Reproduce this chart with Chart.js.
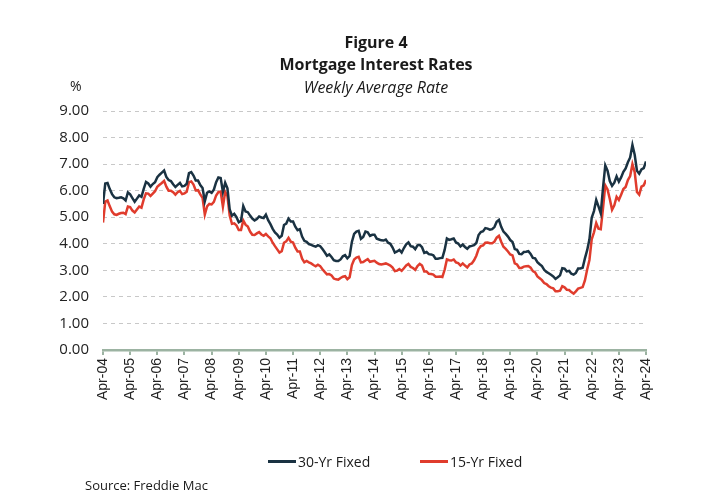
<!DOCTYPE html>
<html>
<head>
<meta charset="utf-8">
<script src="https://cdn.jsdelivr.net/npm/chart.js@4.4.1/dist/chart.umd.min.js"></script>
<style>
  body { margin:0; background:#fff; font-family:"Open Sans", sans-serif; color:#1a1a1a; }
  #wrap { position:relative; width:721px; height:500px; }
  #chart { position:absolute; left:0; top:0; }
  .txt { position:absolute; white-space:nowrap; }
  .title { left:376px; transform:translateX(-50%); font-weight:700; font-size:16px; }
  .lg { position:absolute; top:452px; font-size:14px; display:flex; align-items:center; }
  .lg i { display:inline-block; width:28px; height:2.5px; margin-right:2px; }
</style>
</head>
<body>
<div id="wrap">
  <canvas id="chart" width="721" height="500"></canvas>
  <div class="txt title" style="top:31px">Figure 4</div>
  <div class="txt title" style="top:53px">Mortgage Interest Rates</div>
  <div class="txt title" style="top:76px;font-weight:400;font-style:italic">Weekly Average Rate</div>
  <div class="txt" style="left:70px;top:76px;font-size:14px">%</div>
  <div class="lg" style="left:268px"><i style="background:#1a3242"></i>30-Yr Fixed</div>
  <div class="lg" style="left:420px"><i style="background:#e03c2d"></i>15-Yr Fixed</div>
  <div class="txt" style="left:85px;top:476px;font-size:13px">Source: Freddie Mac</div>
</div>
<script>
// monthly readings, Apr-04 .. Apr-24
const rate30 = [
  5.50, 6.27, 6.29, 6.06, 5.87, 5.75, 5.72, 5.73, 5.75,
  5.71, 5.63, 5.93, 5.86, 5.72, 5.58, 5.70, 5.82, 5.77, 6.07, 6.33, 6.27,
  6.15, 6.25, 6.32, 6.51, 6.60, 6.68, 6.76, 6.52, 6.40, 6.36, 6.24, 6.14,
  6.22, 6.29, 6.16, 6.18, 6.26, 6.66, 6.70, 6.57, 6.38, 6.38, 6.21, 6.10,
  5.60, 5.92, 5.97, 5.92, 6.04, 6.32, 6.50, 6.48, 5.95, 6.30, 6.09, 5.29,
  5.06, 5.13, 5.00, 4.81, 4.86, 5.42, 5.22, 5.19, 5.06, 4.95, 4.88, 4.93,
  5.03, 4.99, 4.97, 5.10, 4.89, 4.74, 4.56, 4.43, 4.35, 4.23, 4.30, 4.71,
  4.76, 4.95, 4.84, 4.84, 4.64, 4.51, 4.55, 4.27, 4.11, 4.07, 3.99, 3.96,
  3.92, 3.89, 3.95, 3.91, 3.80, 3.68, 3.55, 3.60, 3.50, 3.38, 3.35, 3.35,
  3.41, 3.53, 3.57, 3.45, 3.54, 4.07, 4.37, 4.46, 4.49, 4.19, 4.26, 4.46,
  4.43, 4.30, 4.34, 4.34, 4.19, 4.16, 4.13, 4.12, 4.16, 4.04, 4.00, 3.86,
  3.67, 3.71, 3.77, 3.67, 3.84, 3.98, 4.05, 3.91, 3.89, 3.80, 3.94, 3.96,
  3.87, 3.66, 3.69, 3.61, 3.60, 3.57, 3.44, 3.44, 3.46, 3.47, 3.77, 4.20,
  4.15, 4.17, 4.20, 4.05, 4.01, 3.90, 3.97, 3.88, 3.81, 3.90, 3.92, 3.95,
  4.03, 4.33, 4.44, 4.47, 4.59, 4.57, 4.53, 4.55, 4.63, 4.83, 4.90, 4.64,
  4.46, 4.37, 4.27, 4.14, 4.07, 3.80, 3.77, 3.62, 3.61, 3.69, 3.70, 3.72,
  3.62, 3.47, 3.45, 3.31, 3.23, 3.16, 3.02, 2.94, 2.89, 2.83, 2.77, 2.68,
  2.74, 2.81, 3.08, 3.06, 2.96, 2.98, 2.87, 2.84, 2.90, 3.07, 3.07, 3.10,
  3.45, 3.76, 4.17, 4.98, 5.23, 5.65, 5.41, 5.15, 6.11, 6.95, 6.75, 6.36,
  6.18, 6.30, 6.54, 6.34, 6.50, 6.71, 6.84, 7.07, 7.25, 7.72, 7.35, 6.75,
  6.64, 6.80, 6.85, 7.10
];
const rate15 = [
  4.80, 5.59, 5.63, 5.41, 5.21, 5.11, 5.09, 5.13, 5.16,
  5.17, 5.12, 5.40, 5.38, 5.25, 5.18, 5.29, 5.40, 5.36, 5.67, 5.90, 5.89,
  5.80, 5.89, 5.98, 6.15, 6.22, 6.29, 6.37, 6.15, 6.00, 6.00, 5.94, 5.85,
  5.94, 5.99, 5.87, 5.90, 5.96, 6.32, 6.35, 6.23, 6.01, 6.02, 5.86, 5.73,
  5.10, 5.41, 5.50, 5.48, 5.58, 5.82, 5.95, 5.97, 5.40, 5.95, 5.79, 5.06,
  4.75, 4.77, 4.69, 4.52, 4.52, 4.88, 4.72, 4.65, 4.46, 4.34, 4.33, 4.39,
  4.44, 4.35, 4.30, 4.37, 4.28, 4.21, 4.04, 3.91, 3.79, 3.67, 3.72, 4.04,
  4.09, 4.22, 4.08, 4.05, 3.85, 3.71, 3.71, 3.44, 3.30, 3.35, 3.30, 3.26,
  3.20, 3.15, 3.21, 3.16, 3.04, 2.94, 2.85, 2.86, 2.81, 2.69, 2.66, 2.65,
  2.71, 2.76, 2.78, 2.67, 2.74, 3.20, 3.41, 3.48, 3.51, 3.30, 3.31, 3.37,
  3.42, 3.32, 3.34, 3.36, 3.29, 3.24, 3.22, 3.24, 3.26, 3.22, 3.18, 3.10,
  2.97, 2.99, 3.05, 2.98, 3.08, 3.18, 3.24, 3.13, 3.09, 3.02, 3.16, 3.24,
  3.18, 2.96, 2.96, 2.87, 2.86, 2.84, 2.76, 2.76, 2.77, 2.75, 3.02, 3.41,
  3.38, 3.37, 3.41, 3.30, 3.27, 3.18, 3.26, 3.18, 3.11, 3.22, 3.26, 3.38,
  3.55, 3.80, 3.91, 3.94, 4.04, 4.05, 4.02, 4.02, 4.08, 4.23, 4.30, 4.08,
  3.89, 3.81, 3.71, 3.60, 3.56, 3.26, 3.22, 3.09, 3.09, 3.14, 3.15, 3.16,
  3.10, 2.97, 2.92, 2.77, 2.70, 2.63, 2.52, 2.48, 2.40, 2.35, 2.32, 2.21,
  2.21, 2.23, 2.40, 2.36, 2.27, 2.26, 2.18, 2.12, 2.21, 2.31, 2.34, 2.37,
  2.62, 3.03, 3.39, 4.17, 4.43, 4.78, 4.57, 4.55, 5.33, 6.20, 6.05, 5.69,
  5.28, 5.45, 5.77, 5.65, 5.85, 6.06, 6.14, 6.40, 6.55, 7.00, 6.70, 5.95,
  5.85, 6.15, 6.20, 6.40
];
const yTicks = [0, 1, 2, 3, 4, 5, 6, 7, 8, 9];
const firstYear = 2004;

const pts = arr => arr.map((v, i) => ({ x: i, y: v }));
const axisGreen = '#9cb3a2';

new Chart(document.getElementById('chart'), {
  type: 'line',
  data: { datasets: [
    { label:'30-Yr Fixed', data:pts(rate30), borderColor:'#1a3242', borderWidth:2.5, pointRadius:0, tension:0 },
    { label:'15-Yr Fixed', data:pts(rate15), borderColor:'#e03c2d', borderWidth:2.5, pointRadius:0, tension:0 }
  ]},
  options: {
    responsive:false, animation:false,
    layout:{ padding:{ top:111, right:75, left:0, bottom:0 } },
    plugins:{ legend:{display:false}, tooltip:{enabled:false} },
    scales:{
      x:{ type:'linear', min:0, max:rate30.length-1,
          ticks:{ stepSize:12, autoSkip:false, minRotation:90, maxRotation:90, padding:3, color:'#222',
                  font:{ family:'Liberation Sans', size:14 },
                  callback:v => 'Apr-' + String((firstYear + v/12) % 100).padStart(2,'0') },
          grid:{ drawOnChartArea:false, tickLength:5, color:axisGreen, lineWidth:2 },
          border:{ color:axisGreen, width:2.5 },
          afterFit:s => { s.height = 150; } },
      y:{ min:yTicks[0], max:yTicks[yTicks.length-1],
          afterBuildTicks:s => { s.ticks = yTicks.map(v => ({ value:v })); },
          ticks:{ padding:14, color:'#222', font:{ family:'Open Sans', size:15 }, callback:v => v.toFixed(2) },
          grid:{ color:'#c8c8c8', lineWidth:1, drawTicks:false },
          border:{ display:false, dash:[4,4] },
          afterFit:s => { s.width = 103; } }
    }
  }
});
</script>
</body>
</html>
